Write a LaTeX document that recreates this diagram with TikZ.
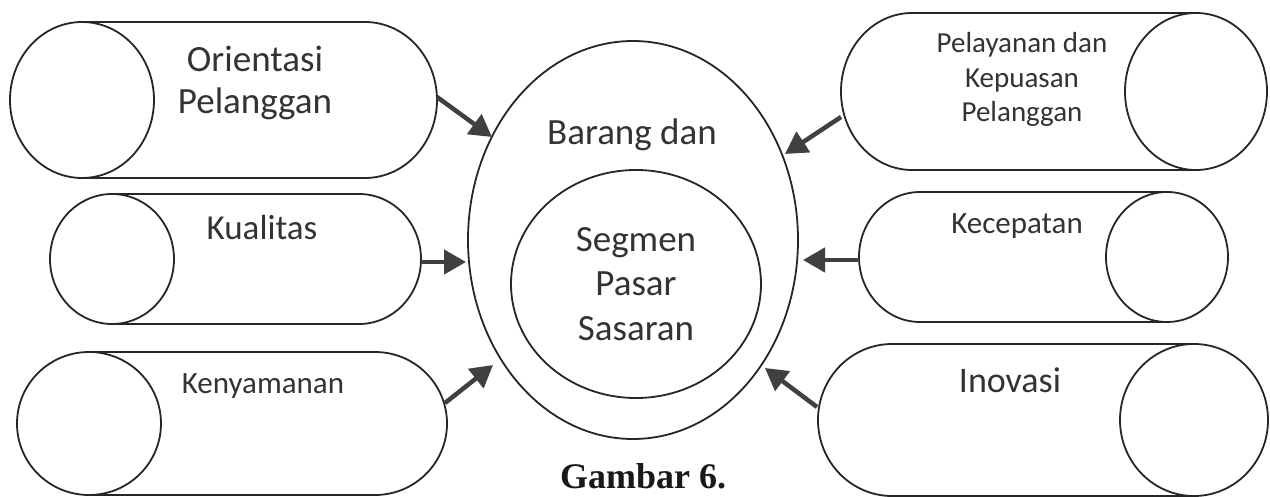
\documentclass[tikz,border=0pt]{standalone}
\usepackage{fontspec}
\setmainfont{Carlito}
\newfontfamily\capfont{Liberation Serif}
\usetikzlibrary{shapes.geometric,arrows.meta}
\begin{document}
\begin{tikzpicture}[x=1pt,y=-1pt,
  outline/.style={draw=black!85, line width=1.8pt},
  lbl/.style={text=black!80, align=center, inner sep=0pt, anchor=base},
  arr/.style={draw=black!75, line width=4.5pt, -{Triangle[length=22pt,width=24pt]}},
]
\fill[white] (0,0) rectangle (1270,497);
\useasboundingbox (0,0) rectangle (1270,497);

% central ellipses
\node[ellipse, outline, minimum width=330pt, minimum height=398pt, inner sep=0pt] (outer) at (633,240) {};
\node[lbl, font=\fontsize{37}{44}\selectfont] (barang) at (632,145) {Barang dan};
\node[ellipse, outline, minimum width=250pt, minimum height=228pt, inner sep=0pt,
      text=black!80, align=center, font=\fontsize{37}{44.5}\selectfont] (inner) at (636,284) {Segmen\\Pasar\\Sasaran};

% left cylinders (face on the left)
\draw[outline] (82,100) ellipse [x radius=72pt, y radius=78pt];
\draw[outline] (82,22) -- (365,22) arc[start angle=90, end angle=-90, x radius=72pt, y radius=78pt] -- (82,178);
\node[lbl, font=\fontsize{37}{42}\selectfont] (orient) at (255,114) {Orientasi\\Pelanggan};

\draw[outline] (112,259) ellipse [x radius=62pt, y radius=65pt];
\draw[outline] (112,194) -- (359,194) arc[start angle=90, end angle=-90, x radius=62pt, y radius=65pt] -- (112,324);
\node[lbl, font=\fontsize{35}{40}\selectfont] (kual) at (262,240) {Kualitas};

\draw[outline] (89,423.5) ellipse [x radius=72pt, y radius=71.5pt];
\draw[outline] (89,352) -- (375,352) arc[start angle=90, end angle=-90, x radius=72pt, y radius=71.5pt] -- (89,495);
\node[lbl, font=\fontsize{31}{34}\selectfont] (keny) at (263,393) {Kenyamanan};

% right cylinders (face on the right)
\draw[outline] (1196,91.5) ellipse [x radius=71pt, y radius=78.5pt];
\draw[outline] (1196,13) -- (912,13) arc[start angle=90, end angle=270, x radius=71pt, y radius=78.5pt] -- (1196,170);
\node[lbl, font=\fontsize{29}{34.5}\selectfont] (pelay) at (1022,122) {Pelayanan dan\\Kepuasan\\Pelanggan};

\draw[outline] (1167,257) ellipse [x radius=61pt, y radius=65pt];
\draw[outline] (1167,192) -- (920,192) arc[start angle=90, end angle=270, x radius=61pt, y radius=65pt] -- (1167,322);
\node[lbl, font=\fontsize{31}{36}\selectfont] (kecep) at (1017,234) {Kecepatan};

\draw[outline] (1194,420) ellipse [x radius=74pt, y radius=76pt];
\draw[outline] (1194,344) -- (892,344) arc[start angle=90, end angle=270, x radius=74pt, y radius=76pt] -- (1194,496);
\node[lbl, font=\fontsize{36}{40}\selectfont] (inov) at (1010,392) {Inovasi};

% connector end points
\coordinate (s1) at (437,97);  \coordinate (t1) at (492,137);
\coordinate (s2) at (421,262); \coordinate (t2) at (466,262);
\coordinate (s3) at (445,403); \coordinate (t3) at (493,365);
\coordinate (s4) at (841,117); \coordinate (t4) at (785,154);
\coordinate (s5) at (859,260); \coordinate (t5) at (803,260);
\coordinate (s6) at (817,407); \coordinate (t6) at (765,368);
\draw[arr] (s1) -- (t1);
\draw[arr] (s2) -- (t2);
\draw[arr] (s3) -- (t3);
\draw[arr] (s4) -- (t4);
\draw[arr] (s5) -- (t5);
\draw[arr] (s6) -- (t6);

\node[lbl, text=black!90, font=\capfont\bfseries\fontsize{36}{40}\selectfont] (cap) at (643,488) {Gambar 6.};
\end{tikzpicture}
\end{document}
